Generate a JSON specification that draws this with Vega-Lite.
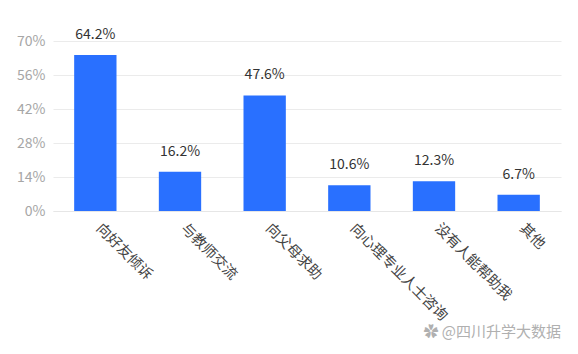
{
  "$schema": "https://vega.github.io/schema/vega-lite/v6.json",
  "width": 508,
  "height": 170,
  "autosize": {"type": "none"},
  "padding": {"left": 53, "top": 41, "right": 12, "bottom": 143},
  "background": "white",
  "config": {
    "view": {"stroke": null},
    "font": "Noto Sans CJK SC"
  },
  "title": {
    "text": "✿ @四川升学大数据",
    "orient": "bottom",
    "anchor": "end",
    "fontSize": 15,
    "fontWeight": "normal",
    "color": "#b0b0b0",
    "offset": 2,
    "font": "Noto Sans CJK SC"
  },
  "data": {
    "values": [
      {"category": "向好友倾诉", "value": 0.642},
      {"category": "与教师交流", "value": 0.162},
      {"category": "向父母求助", "value": 0.476},
      {"category": "向心理专业人士咨询", "value": 0.106},
      {"category": "没有人能帮助我", "value": 0.123},
      {"category": "其他", "value": 0.067}
    ]
  },
  "encoding": {
    "x": {
      "field": "category",
      "type": "nominal",
      "sort": null,
      "scale": {"paddingInner": 0.5, "paddingOuter": 0.25},
      "axis": {
        "title": null,
        "labelAngle": 45,
        "labelFontSize": 14.5,
        "labelColor": "#444444",
        "labelPadding": 10,
        "labelOffset": 8,
        "ticks": false,
        "domain": true,
        "domainColor": "#e6e6e6",
        "labelLimit": 300
      }
    },
    "y": {
      "field": "value",
      "type": "quantitative",
      "scale": {"domain": [0, 0.7], "nice": false},
      "axis": {
        "title": null,
        "values": [0, 0.14, 0.28, 0.42, 0.56, 0.7],
        "format": ".0%",
        "labelFontSize": 14,
        "labelColor": "#a6a6a6",
        "labelPadding": 8,
        "ticks": false,
        "domain": false,
        "gridColor": "#ebebeb"
      }
    }
  },
  "layer": [
    {"mark": {"type": "bar", "color": "#2970ff"}},
    {
      "mark": {"type": "text", "dy": -13, "baseline": "bottom", "fontSize": 14, "color": "#333333"},
      "encoding": {"text": {"field": "value", "type": "quantitative", "format": ".1%"}}
    }
  ]
}
